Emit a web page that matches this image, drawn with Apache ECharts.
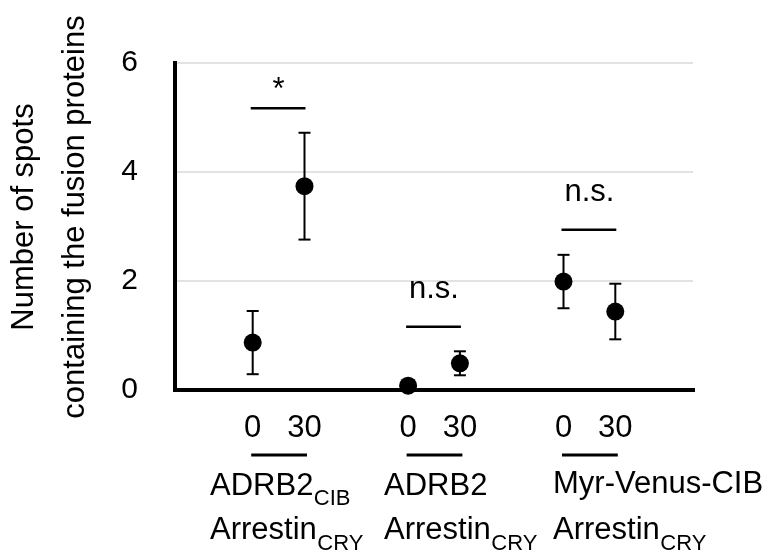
<!DOCTYPE html>
<html>
<head>
<meta charset="utf-8">
<script src="https://cdn.jsdelivr.net/npm/echarts@6/dist/echarts.min.js"></script>
<style>
  html, body { margin: 0; padding: 0; background: #fff; }
  #main { width: 771px; height: 557px; }
</style>
</head>
<body>
<div id="main"></div>
<script>
// slots along the x axis (Excel-style category axis with gaps)
const slots = ['s0', 'a0', 'a30', 's3', 'b0', 'b30', 's6', 'c0', 'c30', 's9']
const slotLabels = ['', '0', '30', '', '0', '30', '', '0', '30', '']

// mean number of spots and error (half bar) per point
const pointSlots = ['a0', 'a30', 'b0', 'b30', 'c0', 'c30']
const means = [0.87, 3.74, 0.08, 0.49, 1.99, 1.44]
const errs = [0.58, 0.98, 0.03, 0.22, 0.49, 0.51]

// significance bars
const sigFrom = ['a0', 'b0', 'c0']
const sigTo = ['a30', 'b30', 'c30']
const sigHeights = [5.17, 1.16, 2.94]
const sigMarks = ['*', 'n.s.', 'n.s.']

// group captions under the axis
const groupNames = ['ADRB2', 'ADRB2', 'Myr-Venus-CIB']
const groupSubs = ['CIB', '', '']
const partnerName = 'Arrestin'
const partnerSub = 'CRY'

const yMin = 0
const yMax = 6
const yStep = 2
const yTitle = 'Number of spots\ncontaining the fusion proteins'

const FONT = '"Liberation Sans", Arial, Helvetica, sans-serif'
const idx = s => slots.indexOf(s)

const ctx = document.createElement('canvas').getContext('2d')
const textWidth = (t, size) => {
  ctx.font = size + 'px ' + FONT
  return ctx.measureText(t).width
}

const errData = pointSlots.map((s, i) => [idx(s), means[i] - errs[i], means[i] + errs[i]])
const sigData = sigFrom.map((s, i) => [idx(s), idx(sigTo[i]), sigHeights[i]])
const underData = sigFrom.map((s, i) => [idx(s), idx(sigTo[i]), 0])

// caption layout (pixels)
const groupX = [210, 384, 553]
const line1Base = [497, 497, 495]
const line2Base = 541
const mainSize = 31
const subSize = 22
const mid = size => 0.3465 * size

const graphic = []
graphic.push({
  type: 'text', x: 50, y: 217, rotation: Math.PI / 2,
  style: {
    text: yTitle, fontSize: mainSize, fontFamily: FONT, fill: '#000',
    align: 'center', verticalAlign: 'middle', lineHeight: 51
  }
})
groupNames.forEach((name, i) => {
  graphic.push({
    type: 'text', x: groupX[i], y: line1Base[i] - mid(mainSize),
    style: { text: name, fontSize: mainSize, fontFamily: FONT, fill: '#000', align: 'left', verticalAlign: 'middle' }
  })
  if (groupSubs[i]) {
    graphic.push({
      type: 'text', x: groupX[i] + textWidth(name, mainSize) + 0.5, y: line1Base[i] + 9.5 - mid(subSize),
      style: { text: groupSubs[i], fontSize: subSize, fontFamily: FONT, fill: '#000', align: 'left', verticalAlign: 'middle' }
    })
  }
  graphic.push({
    type: 'text', x: groupX[i], y: line2Base - mid(mainSize),
    style: { text: partnerName, fontSize: mainSize, fontFamily: FONT, fill: '#000', align: 'left', verticalAlign: 'middle' }
  })
  graphic.push({
    type: 'text', x: groupX[i] + textWidth(partnerName, mainSize) + 0.5, y: line2Base + 10.5 - mid(subSize),
    style: { text: partnerSub, fontSize: subSize, fontFamily: FONT, fill: '#000', align: 'left', verticalAlign: 'middle' }
  })
})

const chart = echarts.init(document.getElementById('main'), null, { renderer: 'canvas' })

chart.setOption({
  backgroundColor: '#fff',
  animation: false,
  textStyle: { fontFamily: FONT },
  grid: { left: 175, right: 78, top: 63, bottom: 167 },
  xAxis: {
    type: 'category',
    data: slots,
    boundaryGap: true,
    axisLine: { show: true, lineStyle: { color: '#000', width: 4, cap: 'square' } },
    axisTick: { show: false },
    axisLabel: {
      interval: 0, margin: 38, verticalAlign: 'middle',
      fontSize: mainSize, color: '#000', fontFamily: FONT,
      formatter: (v, i) => slotLabels[i]
    },
    splitLine: { show: false }
  },
  yAxis: {
    type: 'value',
    min: yMin, max: yMax, interval: yStep,
    axisLine: { show: true, lineStyle: { color: '#000', width: 4, cap: 'square' } },
    axisTick: { show: false },
    axisLabel: { margin: 37, fontSize: 30, color: '#000', fontFamily: FONT },
    splitLine: { show: true, lineStyle: { color: '#d9d9d9', width: 1.5 } }
  },
  graphic: graphic,
  series: [
    {
      type: 'custom',
      name: 'error',
      data: errData,
      encode: { x: 0, y: [1, 2] },
      z: 3,
      renderItem: (params, api) => {
        const x = api.value(0)
        const lo = api.coord([x, api.value(1)])
        const hi = api.coord([x, api.value(2)])
        const hw = 6
        const st = { stroke: '#000', lineWidth: 2 }
        return {
          type: 'group',
          children: [
            { type: 'line', shape: { x1: hi[0], y1: hi[1], x2: lo[0], y2: lo[1] }, style: st },
            { type: 'line', shape: { x1: hi[0] - hw, y1: hi[1], x2: hi[0] + hw, y2: hi[1] }, style: st },
            { type: 'line', shape: { x1: lo[0] - hw, y1: lo[1], x2: lo[0] + hw, y2: lo[1] }, style: st }
          ]
        }
      }
    },
    {
      type: 'scatter',
      name: 'mean',
      data: pointSlots.map((s, i) => [s, means[i]]),
      symbol: 'circle',
      symbolSize: 18,
      itemStyle: { color: '#000', opacity: 1 },
      z: 4
    },
    {
      type: 'custom',
      name: 'significance',
      data: sigData,
      encode: { x: [0, 1], y: 2 },
      z: 3,
      renderItem: (params, api) => {
        const a = api.coord([api.value(0), api.value(2)])
        const b = api.coord([api.value(1), api.value(2)])
        const mark = sigMarks[params.dataIndex]
        const lift = mark === '*' ? 17.5 : 37
        return {
          type: 'group',
          children: [
            { type: 'line', shape: { x1: a[0] - 2, y1: a[1], x2: b[0] + 1, y2: b[1] }, style: { stroke: '#000', lineWidth: 2.5 } },
            {
              type: 'text', x: (a[0] + b[0]) / 2, y: a[1] - lift,
              style: { text: mark, fontSize: mainSize, fontFamily: FONT, fill: '#000', align: 'center', verticalAlign: 'middle' }
            }
          ]
        }
      }
    },
    {
      type: 'custom',
      name: 'underline',
      data: underData,
      encode: { x: [0, 1], y: 2 },
      clip: false,
      renderItem: (params, api) => {
        const a = api.coord([api.value(0), 0])
        const b = api.coord([api.value(1), 0])
        const y = a[1] + 65
        return {
          type: 'line',
          shape: { x1: a[0] - 1.5, y1: y, x2: b[0] + 2.5, y2: y },
          style: { stroke: '#000', lineWidth: 3 }
        }
      }
    }
  ]
})
</script>
</body>
</html>
